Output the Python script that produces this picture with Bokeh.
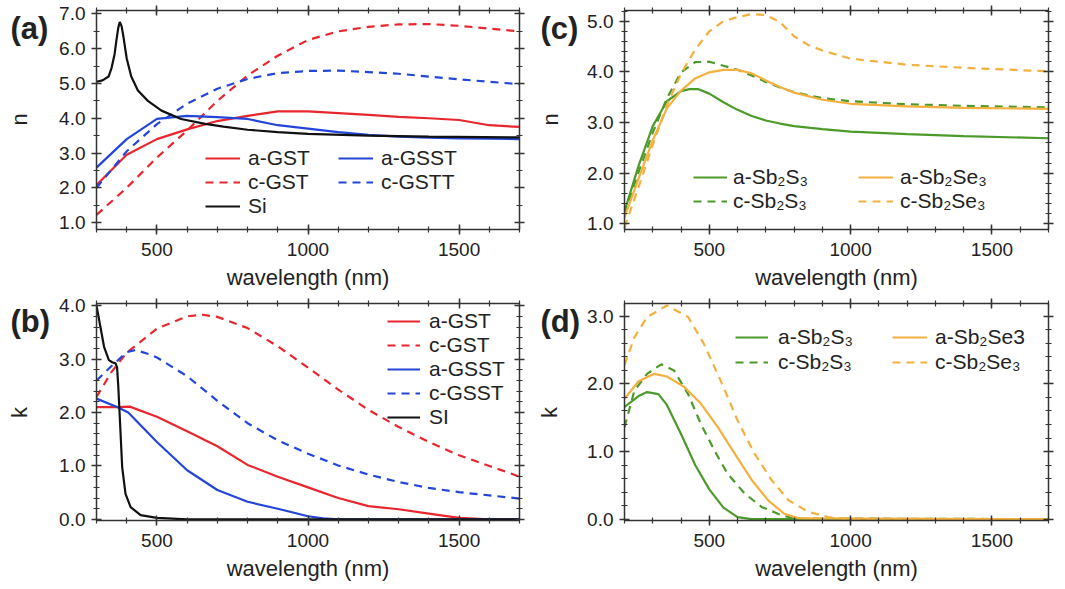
import math
from bokeh.plotting import figure
from bokeh.layouts import column, row
from bokeh.models import (Range1d, FixedTicker, LinearAxis, Legend, LegendItem,
                          Label, PrintfTickFormatter)
from bokeh.embed import file_html
from bokeh.resources import INLINE

FONT = "Liberation Sans"
TXT = "#222222"
AX = "#333333"
RED = "#e8262d"
BLUE = "#2446d8"
GREEN = "#4c9a2a"
ORANGE = "#f4b03e"
BLACK = "#111111"
DASH = "8 6"

# ---------------- data: panel (a) refractive index n ----------------
wl_a = [300, 400, 500, 600, 700, 800, 900, 1000, 1100, 1200, 1300, 1400, 1500, 1600, 1700]
a_gst_n = [2.08, 2.95, 3.40, 3.68, 3.92, 4.07, 4.20, 4.20, 4.15, 4.10, 4.04, 4.00, 3.95, 3.80, 3.75]
c_gst_n = [1.22, 2.00, 2.87, 3.65, 4.50, 5.23, 5.80, 6.25, 6.50, 6.63, 6.70, 6.71, 6.66, 6.58, 6.50]
a_gsst_n = [2.58, 3.40, 3.98, 4.07, 4.03, 3.98, 3.80, 3.70, 3.60, 3.52, 3.47, 3.44, 3.42, 3.41, 3.40]
c_gsst_n = [2.00, 3.05, 3.83, 4.42, 4.85, 5.13, 5.30, 5.36, 5.37, 5.33, 5.28, 5.20, 5.12, 5.05, 4.98]
si_wl_n = [300, 320, 340, 350, 360, 366, 372, 377, 383, 390, 400, 415, 437, 470, 515, 580,
           660, 720, 800, 900, 1000, 1200, 1400, 1700]
si_n = [5.05, 5.09, 5.20, 5.45, 5.85, 6.25, 6.60, 6.77, 6.65, 6.30, 5.72, 5.20, 4.80, 4.50,
        4.22, 3.98, 3.84, 3.76, 3.67, 3.60, 3.55, 3.50, 3.47, 3.45]

# ---------------- data: panel (b) extinction k ----------------
a_gst_wl_k = [300, 370, 410, 500, 600, 700, 800, 900, 1000, 1100, 1200, 1300, 1400, 1500, 1600, 1700]
a_gst_k = [2.10, 2.10, 2.11, 1.92, 1.65, 1.37, 1.02, 0.80, 0.60, 0.40, 0.25, 0.19, 0.11, 0.03, 0.00, 0.00]
c_gst_wl_k = [300, 350, 400, 500, 600, 650, 700, 800, 900, 1000, 1100, 1200, 1300, 1400, 1500, 1600, 1700]
c_gst_k = [2.29, 2.76, 3.12, 3.57, 3.80, 3.83, 3.79, 3.58, 3.24, 2.84, 2.43, 2.05, 1.73, 1.45, 1.20, 1.00, 0.80]
a_gsst_wl_k = [300, 370, 405, 500, 600, 700, 800, 900, 1000, 1050, 1100, 1700]
a_gsst_k = [2.26, 2.10, 2.00, 1.45, 0.92, 0.55, 0.33, 0.20, 0.06, 0.02, 0.00, 0.00]
c_gsst_wl_k = [300, 350, 400, 430, 480, 500, 600, 700, 800, 900, 1000, 1100, 1200, 1300, 1400,
               1500, 1600, 1700]
c_gsst_k = [2.60, 2.87, 3.13, 3.17, 3.08, 3.03, 2.68, 2.22, 1.80, 1.48, 1.23, 1.01, 0.84, 0.70,
            0.59, 0.51, 0.45, 0.39]
si_wl_k = [300, 305, 313, 325, 341, 352, 363, 368, 372, 377, 385, 396, 413, 446, 500, 600, 1700]
si_k = [4.00, 3.85, 3.60, 3.23, 2.98, 2.94, 2.92, 2.85, 2.50, 1.92, 0.98, 0.48, 0.23, 0.08, 0.03, 0.00, 0.00]

# ---------------- data: panel (c) refractive index n ----------------
a_sbs_wl_n = [200, 250, 300, 350, 400, 430, 460, 500, 550, 600, 650, 700, 750, 800, 900, 1000, 1200, 1400, 1700]
a_sbs_n = [1.25, 2.15, 2.93, 3.42, 3.62, 3.66, 3.66, 3.57, 3.40, 3.25, 3.13, 3.04, 2.98, 2.93, 2.87, 2.82, 2.77, 2.73, 2.69]
c_sbs_wl_n = [200, 250, 300, 350, 400, 450, 500, 550, 600, 650, 700, 750, 800, 900, 1000, 1200, 1400, 1700]
c_sbs_n = [1.20, 2.02, 2.80, 3.48, 3.99, 4.19, 4.20, 4.12, 4.04, 3.93, 3.80, 3.69, 3.60, 3.48, 3.42, 3.36, 3.33, 3.30]
a_sbse_wl_n = [200, 250, 300, 350, 400, 450, 500, 550, 600, 650, 700, 750, 800, 900, 1000, 1200, 1400, 1700]
a_sbse_n = [1.13, 1.90, 2.65, 3.28, 3.63, 3.87, 3.99, 4.04, 4.04, 3.97, 3.83, 3.70, 3.59, 3.45, 3.37, 3.32, 3.29, 3.27]
c_sbse_wl_n = [200, 250, 300, 350, 400, 450, 500, 550, 600, 650, 700, 750, 800, 850, 900, 1000, 1200, 1400, 1700]
c_sbse_n = [0.93, 1.73, 2.56, 3.34, 3.96, 4.44, 4.80, 5.00, 5.08, 5.14, 5.12, 4.98, 4.70, 4.53, 4.42, 4.26, 4.14, 4.08, 4.01]

# ---------------- data: panel (d) extinction k ----------------
a_sbs_wl_k = [200, 250, 280, 320, 350, 400, 450, 500, 550, 600, 650, 1700]
a_sbs_k = [1.66, 1.82, 1.88, 1.85, 1.69, 1.26, 0.80, 0.44, 0.17, 0.03, 0.00, 0.00]
c_sbs_wl_k = [200, 235, 280, 330, 375, 425, 470, 520, 565, 625, 685, 755, 800, 1700]
c_sbs_k = [1.36, 1.90, 2.15, 2.29, 2.20, 1.85, 1.41, 1.00, 0.67, 0.38, 0.18, 0.06, 0.01, 0.00]
a_sbse_wl_k = [200, 250, 305, 350, 410, 470, 530, 590, 650, 710, 765, 820, 1700]
a_sbse_k = [1.78, 2.04, 2.15, 2.11, 1.96, 1.71, 1.36, 0.97, 0.58, 0.27, 0.08, 0.01, 0.00]
c_sbse_wl_k = [200, 235, 280, 350, 425, 480, 540, 600, 660, 720, 780, 850, 920, 1000, 1700]
c_sbse_k = [2.28, 2.69, 2.99, 3.16, 2.99, 2.60, 2.05, 1.46, 0.97, 0.58, 0.28, 0.11, 0.03, 0.00, 0.00]

x_ticks = [500, 1000, 1500]
x_minor = list(range(200, 1800, 100))


def frange(a, b, s):
    out, v = [], a
    while v <= b + 1e-9:
        out.append(round(v, 3))
        v += s
    return out


def style_axis(ax, ticks, minor, labels=True):
    ax.ticker = FixedTicker(ticks=ticks, minor_ticks=minor)
    ax.axis_line_color = AX
    ax.axis_line_width = 1.5
    ax.major_tick_line_color = AX
    ax.major_tick_line_width = 1.5
    ax.minor_tick_line_color = AX
    ax.minor_tick_line_width = 1.2
    ax.major_tick_in = 5
    ax.major_tick_out = 5
    ax.minor_tick_in = 3
    ax.minor_tick_out = 3
    if labels:
        ax.major_label_text_font = FONT
        ax.major_label_text_font_size = "19px"
        ax.major_label_text_color = TXT
        ax.axis_label_text_font = FONT
        ax.axis_label_text_font_size = "22px"
        ax.axis_label_text_font_style = "normal"
        ax.axis_label_text_color = TXT
    else:
        # tick marks only: labels are not drawn at all
        ax.major_label_text_font_size = "1px"
        ax.major_label_text_color = None
        ax.major_label_standoff = 0


def make_fig(xr, yr, yticks, yminor, fw, fh, bl, br, bt, bb):
    p = figure(output_backend="svg", toolbar_location=None,
               frame_width=fw, frame_height=fh,
               x_range=Range1d(*xr), y_range=Range1d(*yr),
               min_border_left=bl, min_border_right=br,
               min_border_top=bt, min_border_bottom=bb)
    p.grid.visible = False
    p.outline_line_color = None
    p.background_fill_color = "white"
    p.border_fill_color = "white"
    style_axis(p.xaxis[0], x_ticks, x_minor)
    p.xaxis[0].axis_label = "wavelength (nm)"
    p.xaxis[0].major_label_standoff = 8
    p.xaxis[0].axis_label_standoff = 6
    style_axis(p.yaxis[0], yticks, yminor)
    p.yaxis[0].major_label_standoff = 6
    p.yaxis[0].formatter = PrintfTickFormatter(format="%.1f")
    top = LinearAxis()
    style_axis(top, x_ticks, x_minor, labels=False)
    p.add_layout(top, "above")
    right = LinearAxis()
    style_axis(right, yticks, yminor, labels=False)
    p.add_layout(right, "right")
    return p


def label_strip(fw, fh, bt, bb, tag, tag_y, ylab, ylab_x, ylab_y):
    # narrow axis-less figure; its frame lines up with the neighbouring plot's frame
    f = figure(output_backend="svg", toolbar_location=None, title=None,
               frame_width=fw, frame_height=fh,
               min_border_left=0, min_border_right=0, min_border_top=bt,
               min_border_bottom=bb, x_axis_location=None, y_axis_location=None,
               x_range=Range1d(0, fw), y_range=Range1d(0, fh))
    f.outline_line_color = None
    f.grid.visible = False
    f.background_fill_color = "white"
    f.border_fill_color = "white"
    f.add_layout(Label(x=10, y=tag_y, text=tag,
                       text_font=FONT, text_font_style="bold", text_font_size="31px",
                       text_color=TXT, text_baseline="top", text_align="left"))
    f.add_layout(Label(x=ylab_x, y=ylab_y, text=ylab,
                       text_font=FONT, text_font_size="22px", text_color=TXT,
                       angle=math.pi / 2, text_baseline="middle", text_align="center"))
    return f


def add_legend(p, items, x, y, gw=35, spacing=0, standoff=8):
    leg = Legend(items=[LegendItem(label=l, renderers=[r]) for l, r in items],
                 location=(x, y), background_fill_alpha=0, border_line_color=None,
                 padding=0, margin=0, spacing=spacing, glyph_width=gw, glyph_height=20,
                 label_height=20, label_standoff=standoff, label_text_font=FONT,
                 label_text_font_size="21px", label_text_color=TXT)
    p.add_layout(leg)


LW = 2.2

# ---- (a)
pa = make_fig((300, 1700), (0.8, 7.1), list(range(1, 8)), frange(1.0, 7.0, 0.5),
              423, 219, 44, 11, 10, 64)
r_agst = pa.line(wl_a, a_gst_n, color=RED, line_width=LW)
r_cgst = pa.line(wl_a, c_gst_n, color=RED, line_width=LW, line_dash=DASH)
r_agsst = pa.line(wl_a, a_gsst_n, color=BLUE, line_width=LW)
r_cgsst = pa.line(wl_a, c_gsst_n, color=BLUE, line_width=LW, line_dash=DASH)
r_si = pa.line(si_wl_n, si_n, color=BLACK, line_width=LW)
add_legend(pa, [("a-GST", r_agst), ("c-GST", r_cgst), ("Si", r_si)], 109, 11)
add_legend(pa, [("a-GSST", r_agsst), ("c-GSTT", r_cgsst)], 242, 35)
la = label_strip(52, 219, 10, 64, "(a)", 219, "n", 19, 110)

# ---- (c)
pc = make_fig((200, 1700), (0.89, 5.21), list(range(1, 6)), frange(1.0, 5.2, 0.2),
              424, 219, 42, 9, 10, 64)
r1 = pc.line(a_sbs_wl_n, a_sbs_n, color=GREEN, line_width=LW)
r2 = pc.line(c_sbs_wl_n, c_sbs_n, color=GREEN, line_width=LW, line_dash=DASH)
r3 = pc.line(a_sbse_wl_n, a_sbse_n, color=ORANGE, line_width=LW)
r4 = pc.line(c_sbse_wl_n, c_sbse_n, color=ORANGE, line_width=LW, line_dash=DASH)
add_legend(pc, [("a-Sb\u2082S\u2083", r1), ("c-Sb\u2082S\u2083", r2)], 69, 16, gw=34, standoff=6)
add_legend(pc, [("a-Sb\u2082Se\u2083", r3), ("c-Sb\u2082Se\u2083", r4)], 234, 16, gw=35, standoff=7)
lc = label_strip(52, 219, 10, 64, "(c)", 219, "n", 20, 110)

# ---- (b)
pb = make_fig((300, 1700), (-0.02, 4.04), list(range(0, 5)), frange(0.0, 4.0, 0.2),
              423, 217, 44, 11, 10, 61)
b1 = pb.line(a_gst_wl_k, a_gst_k, color=RED, line_width=LW)
b2 = pb.line(c_gst_wl_k, c_gst_k, color=RED, line_width=LW, line_dash=DASH)
b3 = pb.line(a_gsst_wl_k, a_gsst_k, color=BLUE, line_width=LW)
b4 = pb.line(c_gsst_wl_k, c_gsst_k, color=BLUE, line_width=LW, line_dash=DASH)
b5 = pb.line(si_wl_k, si_k, color=BLACK, line_width=LW)
add_legend(pb, [("a-GST", b1), ("c-GST", b2), ("a-GSST", b3), ("c-GSST", b4), ("SI", b5)],
           291, 91, gw=33, standoff=9)
lb = label_strip(52, 217, 10, 61, "(b)", 217, "k", 19, 108)

# ---- (d)
pd_ = make_fig((200, 1700), (-0.02, 3.19), list(range(0, 4)), frange(0.0, 3.2, 0.2),
               424, 217, 42, 9, 10, 61)
d1 = pd_.line(a_sbs_wl_k, a_sbs_k, color=GREEN, line_width=LW)
d2 = pd_.line(c_sbs_wl_k, c_sbs_k, color=GREEN, line_width=LW, line_dash=DASH)
d3 = pd_.line(a_sbse_wl_k, a_sbse_k, color=ORANGE, line_width=LW)
d4 = pd_.line(c_sbse_wl_k, c_sbse_k, color=ORANGE, line_width=LW, line_dash=DASH)
add_legend(pd_, [("a-Sb\u2082S\u2083", d1), ("c-Sb\u2082S\u2083", d2)], 111, 146, gw=33, spacing=1, standoff=10)
add_legend(pd_, [("a-Sb\u2082Se3", d3), ("c-Sb\u2082Se\u2083", d4)], 268, 146, gw=35, spacing=1, standoff=8)
ld = label_strip(52, 217, 10, 61, "(d)", 217, "k", 19, 108)

layout = column(row(la, pa, lc, pc), row(lb, pb, ld, pd_))
open("out.html", "w").write(file_html(layout, INLINE))
